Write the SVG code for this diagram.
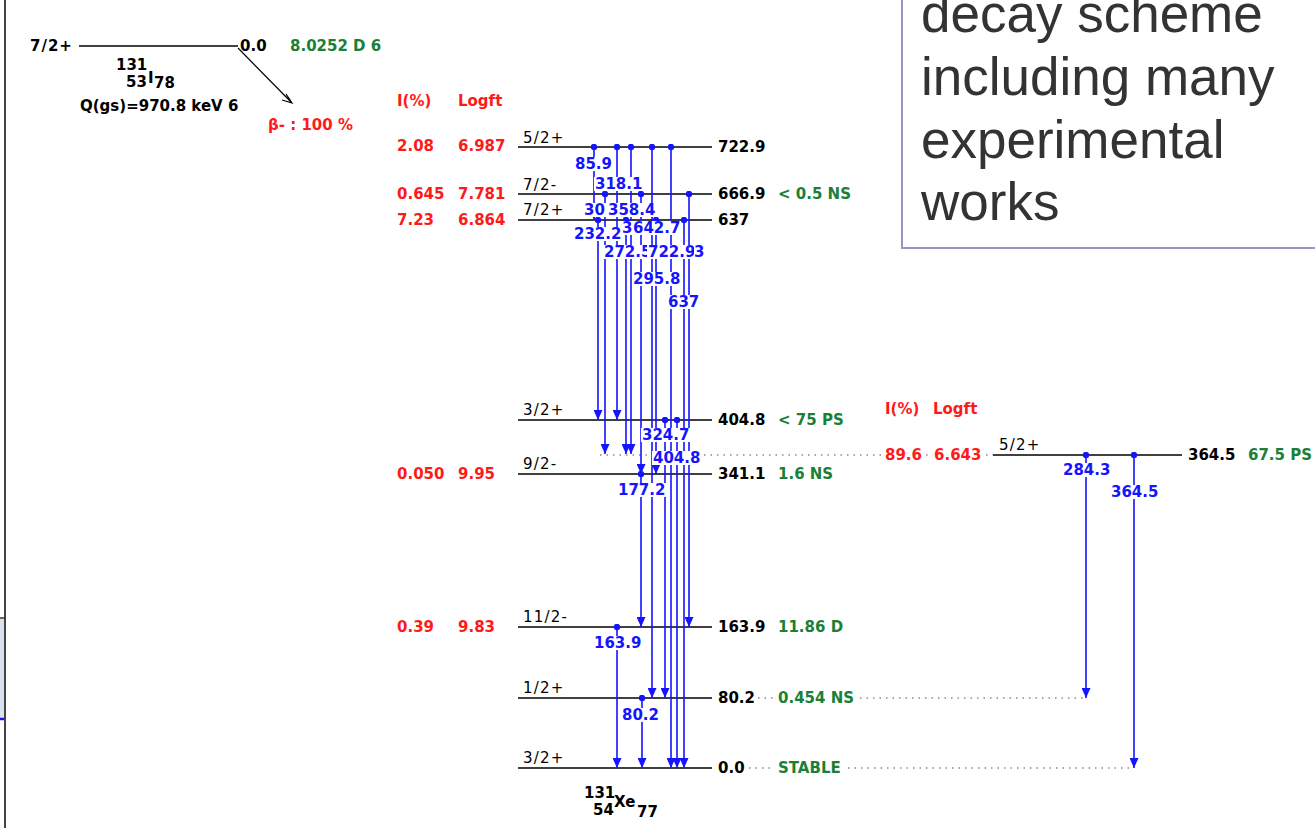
<svg xmlns="http://www.w3.org/2000/svg" width="1315" height="828" viewBox="0 0 1315 828">
<style>
text{font-family:"DejaVu Sans","Liberation Sans",sans-serif;font-size:15px;font-weight:bold}
.sp{font-weight:normal;fill:#000;letter-spacing:1.2px}
.bk{fill:#000}
.rd{fill:#ff1a1a}
.gr{fill:#1a8036}
.bl{fill:#1414ff}
.lv{stroke:#000;stroke-width:1.5;fill:none}
.dt{stroke:#8a8a8a;stroke-width:1.3;stroke-dasharray:1.5 5;fill:none}
.tr{stroke:#1414ff;stroke-width:1.6;fill:none;marker-start:url(#dot);marker-end:url(#arr)}
.bx{fill:#fff}
.big{font-family:"Liberation Sans",Arial,sans-serif;font-size:53px;font-weight:normal;fill:#333}
</style>
<defs>
<marker id="arr" viewBox="0 0 10 9" refX="10" refY="4.5" markerWidth="10" markerHeight="9" markerUnits="userSpaceOnUse" orient="auto"><path d="M0,0 L10,4.5 L0,9 z" fill="#1414ff"/></marker>
<marker id="dot" viewBox="-3.5 -3.5 7 7" refX="0" refY="0" markerWidth="7" markerHeight="7" markerUnits="userSpaceOnUse"><circle r="3.2" fill="#1414ff"/></marker>
</defs>
<rect width="1315" height="828" fill="#fff"/>
<g id="frame">
<line x1="5" y1="0" x2="5" y2="828" stroke="#444" stroke-width="2"/>
<rect x="0" y="619" width="4" height="101" fill="#dde0ee"/>
<line x1="0" y1="618" x2="5" y2="618" stroke="#333" stroke-width="1.5"/>
<line x1="0" y1="719" x2="4" y2="719" stroke="#1414ff" stroke-width="2.5"/>
</g>
<g id="parent">
<text x="30" y="51" class="bk" style="letter-spacing:1px">7/2+</text>
<line x1="79" y1="46" x2="238" y2="46" class="lv"/>
<text x="240" y="51" class="bk">0.0</text>
<text x="290" y="51" class="gr">8.0252 D 6</text>
<text x="116" y="70" class="bk">131</text>
<text x="126" y="87" class="bk">53</text>
<text x="148" y="83" class="bk">I</text>
<text x="154" y="88" class="bk">78</text>
<text x="80" y="111" class="bk">Q(gs)=970.8 keV 6</text>
<path d="M238,48 L292,103 M286,94 L292,103 L282,100" stroke="#000" stroke-width="1.2" fill="none"/>
<text x="268" y="130" class="rd">β- : 100 %</text>
</g>
<g id="headers">
<text x="397" y="106" class="rd">I(%)</text>
<text x="458" y="106" class="rd">Logft</text>
<text x="885" y="414" class="rd">I(%)</text>
<text x="933" y="414" class="rd">Logft</text>
</g>
<g id="level-722.9">
<line x1="518" y1="147" x2="712" y2="147" class="lv"/>
<text x="523" y="143" class="sp">5/2+</text>
<text x="397" y="151" class="rd">2.08</text>
<text x="458" y="151" class="rd">6.987</text>
<text x="718" y="152" class="bk">722.9</text>
</g>
<g id="level-666.9">
<line x1="518" y1="194" x2="712" y2="194" class="lv"/>
<text x="523" y="190" class="sp">7/2-</text>
<text x="397" y="199" class="rd">0.645</text>
<text x="458" y="199" class="rd">7.781</text>
<text x="718" y="199" class="bk">666.9</text>
<text x="778" y="199" class="gr">&lt; 0.5 NS</text>
</g>
<g id="level-637">
<line x1="518" y1="220" x2="712" y2="220" class="lv"/>
<text x="523" y="215" class="sp">7/2+</text>
<text x="397" y="225" class="rd">7.23</text>
<text x="458" y="225" class="rd">6.864</text>
<text x="718" y="225" class="bk">637</text>
</g>
<g id="level-404.8">
<line x1="518" y1="420" x2="712" y2="420" class="lv"/>
<text x="523" y="415" class="sp">3/2+</text>
<text x="718" y="425" class="bk">404.8</text>
<text x="778" y="425" class="gr">&lt; 75 PS</text>
</g>
<g id="level-364.5">
<line x1="600" y1="455" x2="881" y2="455" class="dt"/>
<line x1="926" y1="455" x2="931" y2="455" class="dt"/>
<line x1="986" y1="455" x2="993" y2="455" class="dt"/>
<text x="885" y="460" class="rd">89.6</text>
<text x="934" y="460" class="rd">6.643</text>
<line x1="993" y1="455" x2="1182" y2="455" class="lv"/>
<text x="999" y="450" class="sp">5/2+</text>
<text x="1188" y="460" class="bk">364.5</text>
<text x="1248" y="460" class="gr">67.5 PS</text>
</g>
<g id="level-341.1">
<line x1="518" y1="474" x2="712" y2="474" class="lv"/>
<text x="523" y="469" class="sp">9/2-</text>
<text x="397" y="479" class="rd">0.050</text>
<text x="458" y="479" class="rd">9.95</text>
<text x="718" y="479" class="bk">341.1</text>
<text x="778" y="479" class="gr">1.6 NS</text>
</g>
<g id="level-163.9">
<line x1="518" y1="627" x2="712" y2="627" class="lv"/>
<text x="523" y="622" class="sp">11/2-</text>
<text x="397" y="632" class="rd">0.39</text>
<text x="458" y="632" class="rd">9.83</text>
<text x="718" y="632" class="bk">163.9</text>
<text x="778" y="632" class="gr">11.86 D</text>
</g>
<g id="level-80.2">
<line x1="518" y1="698" x2="712" y2="698" class="lv"/>
<text x="523" y="693" class="sp">1/2+</text>
<text x="718" y="703" class="bk">80.2</text>
<line x1="758" y1="698" x2="776" y2="698" class="dt"/>
<text x="778" y="703" class="gr">0.454 NS</text>
<line x1="860" y1="698" x2="1086" y2="698" class="dt"/>
</g>
<g id="level-0.0">
<line x1="518" y1="768" x2="712" y2="768" class="lv"/>
<text x="523" y="763" class="sp">3/2+</text>
<text x="718" y="773" class="bk">0.0</text>
<line x1="749" y1="768" x2="774" y2="768" class="dt"/>
<text x="778" y="773" class="gr">STABLE</text>
<line x1="848" y1="768" x2="1134" y2="768" class="dt"/>
<text x="584" y="798" class="bk">131</text>
<text x="593" y="815" class="bk">54</text>
<text x="614" y="807" class="bk">Xe</text>
<text x="637" y="817" class="bk">77</text>
</g>
<g id="connectors">
<line x1="594" y1="147" x2="594" y2="220" class="tr"/>
<line x1="617" y1="147" x2="617" y2="420" class="tr"/>
<line x1="631" y1="147" x2="631" y2="454" class="tr"/>
<line x1="652" y1="147" x2="652" y2="698" class="tr"/>
<line x1="671" y1="147" x2="671" y2="768" class="tr"/>
<line x1="605" y1="194" x2="605" y2="454" class="tr"/>
<line x1="641" y1="194" x2="641" y2="474" class="tr"/>
<line x1="689" y1="194" x2="689" y2="627" class="tr"/>
<line x1="598" y1="220" x2="598" y2="420" class="tr"/>
<line x1="626" y1="220" x2="626" y2="454" class="tr"/>
<line x1="656" y1="220" x2="656" y2="474" class="tr"/>
<line x1="684" y1="220" x2="684" y2="768" class="tr"/>
<line x1="665" y1="420" x2="665" y2="698" class="tr"/>
<line x1="677" y1="420" x2="677" y2="768" class="tr"/>
<line x1="641" y1="474" x2="641" y2="627" class="tr"/>
<line x1="617" y1="627" x2="617" y2="768" class="tr"/>
<line x1="642" y1="698" x2="642" y2="768" class="tr"/>
<line x1="1086" y1="455" x2="1086" y2="698" class="tr"/>
<line x1="1134" y1="455" x2="1134" y2="768" class="tr"/>
</g>
<g id="gamma-labels">
<rect x="574" y="157" width="39" height="14" class="bx"/><text x="575" y="169" class="bl">85.9</text>
<rect x="594" y="177" width="49" height="14" class="bx"/><text x="595" y="189" class="bl">318.1</text>
<rect x="583" y="203" width="23" height="14" class="bx"/><text x="584" y="215" class="bl">30</text>
<rect x="607" y="203" width="49" height="14" class="bx"/><text x="608" y="215" class="bl">358.4</text>
<rect x="573" y="227" width="49" height="14" class="bx"/><text x="574" y="239" class="bl">232.2</text>
<rect x="622" y="221" width="10" height="14" class="bx"/><text x="622" y="233" class="bl">3</text>
<rect x="632" y="221" width="49" height="14" class="bx"/><text x="633" y="233" class="bl">642.7</text>
<rect x="603" y="245" width="49" height="14" class="bx"/><text x="604" y="257" class="bl">272.5</text>
<rect x="647" y="245" width="49" height="14" class="bx"/><text x="648" y="257" class="bl">722.9</text>
<rect x="694" y="245" width="12" height="14" class="bx"/><text x="694" y="257" class="bl">3</text>
<rect x="632" y="272" width="49" height="14" class="bx"/><text x="633" y="284" class="bl">295.8</text>
<rect x="667" y="295" width="33" height="14" class="bx"/><text x="668" y="307" class="bl">637</text>
<rect x="641" y="428" width="49" height="14" class="bx"/><text x="642" y="440" class="bl">324.7</text>
<rect x="652" y="451" width="49" height="14" class="bx"/><text x="653" y="463" class="bl">404.8</text>
<rect x="617" y="483" width="49" height="14" class="bx"/><text x="618" y="495" class="bl">177.2</text>
<rect x="593" y="636" width="49" height="14" class="bx"/><text x="594" y="648" class="bl">163.9</text>
<rect x="621" y="708" width="39" height="14" class="bx"/><text x="622" y="720" class="bl">80.2</text>
<rect x="1062" y="463" width="49" height="14" class="bx"/><text x="1063" y="475" class="bl">284.3</text>
<rect x="1110" y="485" width="49" height="14" class="bx"/><text x="1111" y="497" class="bl">364.5</text>
</g>
<g id="note">
<rect x="902" y="-3" width="420" height="251" fill="#fff" stroke="#9a94c8" stroke-width="2"/>
<text x="921" y="32" class="big">decay scheme</text>
<text x="921" y="95" class="big">including many</text>
<text x="921" y="158" class="big">experimental</text>
<text x="921" y="220" class="big">works</text>
</g>
</svg>
